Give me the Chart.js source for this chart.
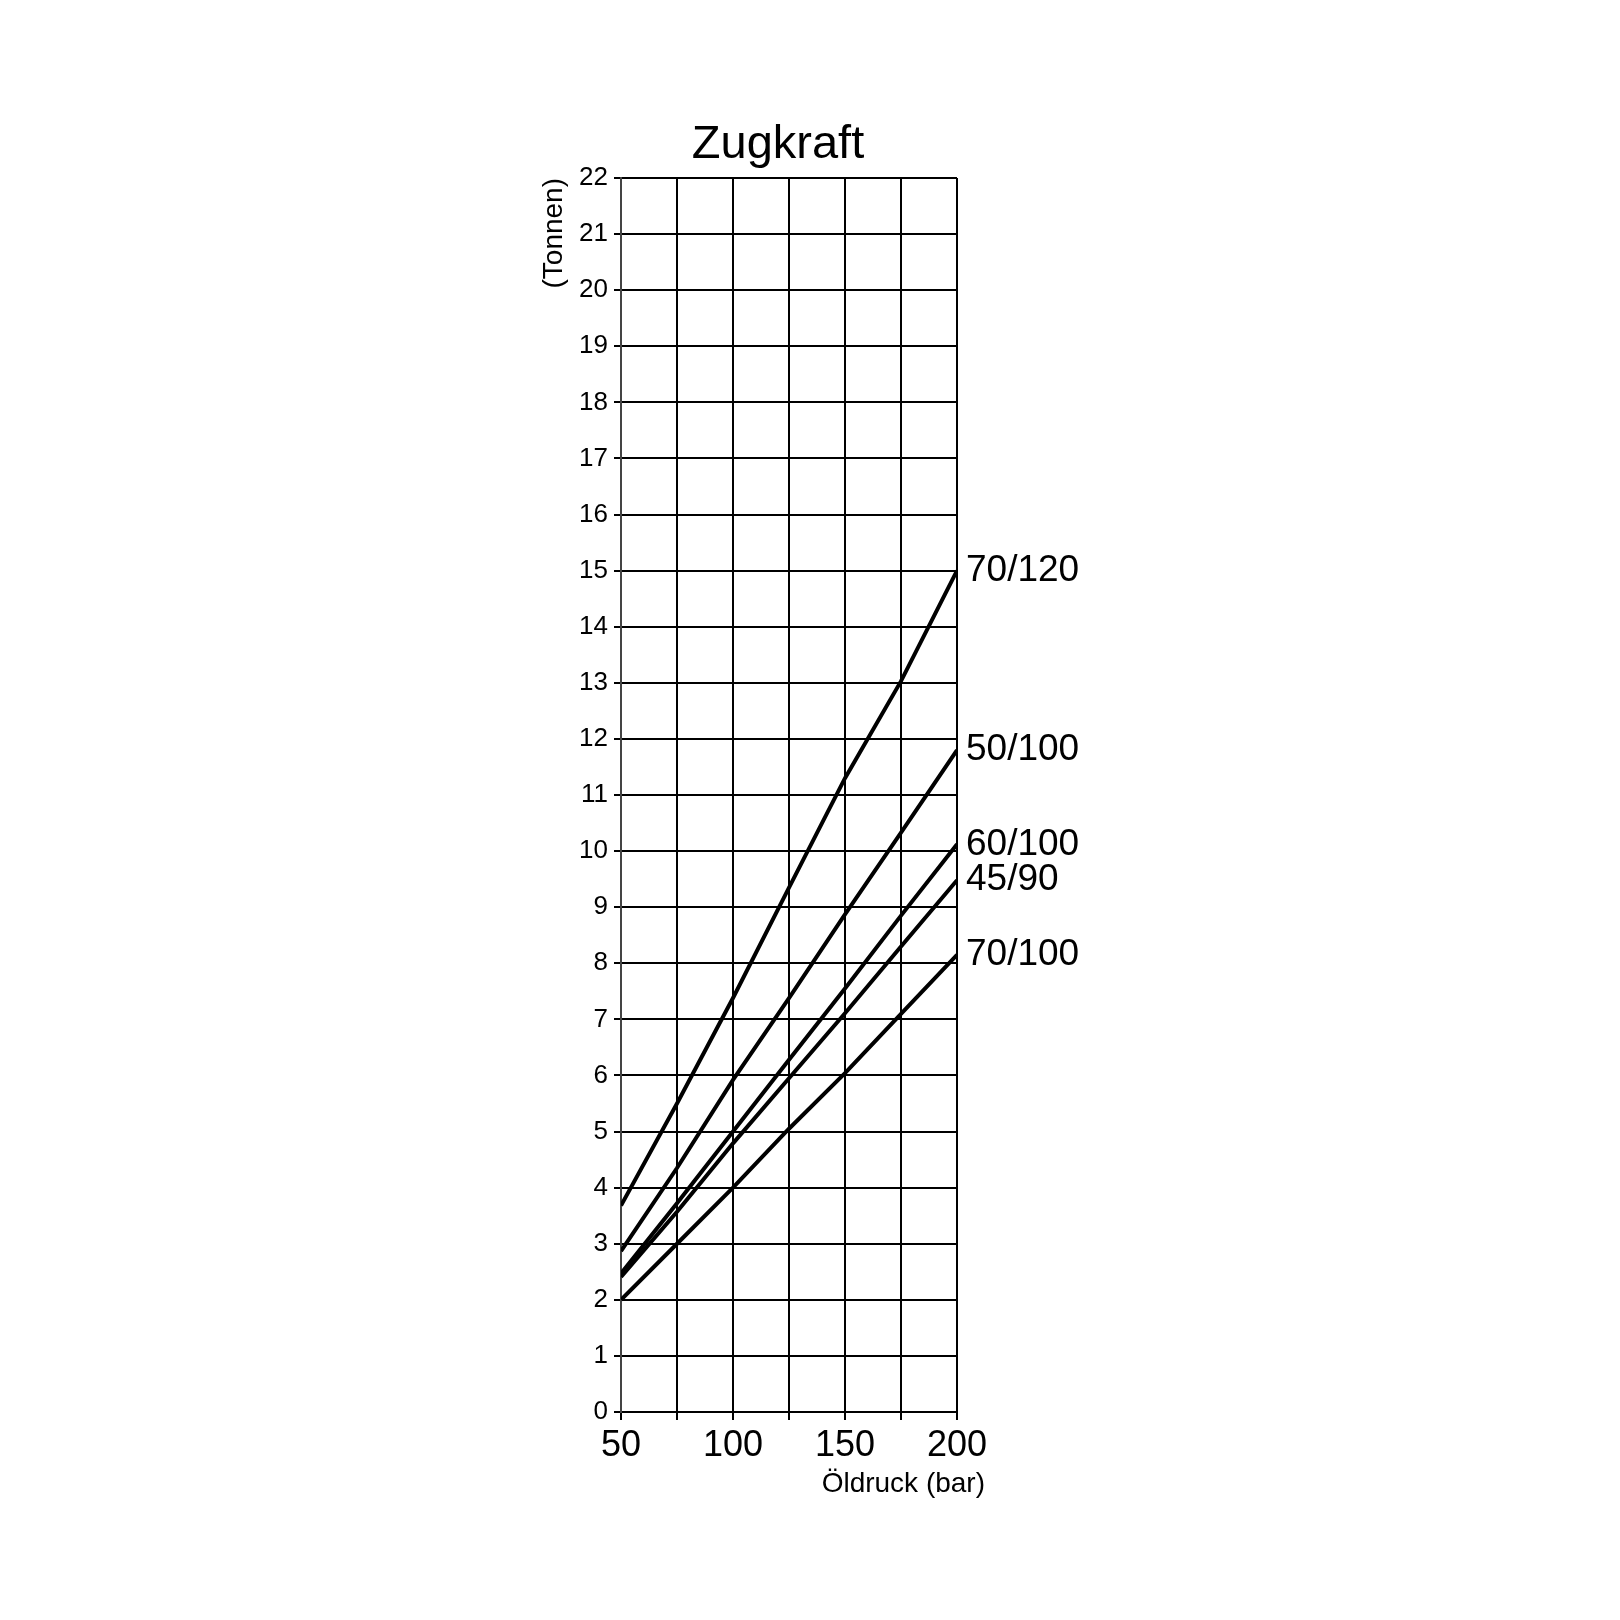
<!DOCTYPE html>
<html>
<head>
<meta charset="utf-8">
<title>Zugkraft</title>
<script src="https://cdn.jsdelivr.net/npm/chart.js@4.4.1/dist/chart.umd.min.js"></script>
<style>
    body { margin: 0; background: #fff; }
    #wrap { width: 1620px; height: 1620px; }
</style>
</head>
<body>
<div id="wrap"><canvas id="zugChart" width="1620" height="1620"></canvas></div>
<script>
// --- Data ---
const pressures = [50, 75, 100, 125, 150, 175, 200]; // Öldruck (bar)
const seriesNames = ['70/120', '50/100', '60/100', '45/90', '70/100'];
const force70_120 = [3.68, 5.5, 7.38, 9.35, 11.3, 13.03, 15.0];
const force50_100 = [2.87, 4.35, 5.92, 7.38, 8.87, 10.33, 11.8];
const force60_100 = [2.47, 3.72, 5.0, 6.28, 7.55, 8.85, 10.12];
const force45_90 = [2.41, 3.57, 4.79, 5.95, 7.11, 8.3, 9.48];
const force70_100 = [2.0, 3.0, 4.0, 5.05, 6.04, 7.1, 8.15];
const xTickLabels = [50, 100, 150, 200];

const allForces = [force70_120, force50_100, force60_100, force45_90, force70_100];
const FONT = "'Liberation Sans', Arial, sans-serif";

function toPoints(values) {
    return values.map((v, i) => ({ x: pressures[i], y: v }));
}

// Title, x axis title and line labels drawn next to the chart area
const labelPlugin = {
    id: 'labelPlugin',
    afterDraw(chart) {
        const ctx = chart.ctx;
        const area = chart.chartArea;
        const yScale = chart.scales.y;
        ctx.save();
        ctx.fillStyle = '#000';

        // main title
        ctx.font = '47px ' + FONT;
        ctx.textAlign = 'center';
        ctx.textBaseline = 'alphabetic';
        ctx.fillText('Zugkraft', (area.left + area.right) / 2 - 11, area.top - 20);

        // x axis title
        ctx.font = '28px ' + FONT;
        ctx.textAlign = 'right';
        ctx.fillText('Öldruck (bar)', area.right + 28, area.bottom + 80);

        // series names at the end of each line
        ctx.font = '37px ' + FONT;
        ctx.textAlign = 'left';
        ctx.textBaseline = 'middle';
        seriesNames.forEach((name, i) => {
            const last = allForces[i][allForces[i].length - 1];
            ctx.fillText(name, area.right + 9, yScale.getPixelForValue(last));
        });
        ctx.restore();
    }
};

new Chart(document.getElementById('zugChart'), {
    type: 'line',
    data: {
        datasets: allForces.map((vals, i) => ({
            label: seriesNames[i],
            data: toPoints(vals),
            borderColor: '#000',
            borderWidth: 4,
            pointRadius: 0,
            tension: 0,
            fill: false
        }))
    },
    options: {
        responsive: false,
        animation: false,
        layout: {
            padding: { left: 500, right: 663, top: 178, bottom: 148 }
        },
        plugins: {
            legend: { display: false },
            tooltip: { enabled: false }
        },
        scales: {
            x: {
                type: 'linear',
                min: 50,
                max: 200,
                afterFit: (scale) => { scale.height = 60; },
                ticks: {
                    stepSize: 25,
                    autoSkip: false,
                    maxRotation: 0,
                    padding: 4,
                    color: '#000',
                    font: { family: FONT, size: 36 },
                    callback: (v) => xTickLabels.includes(v) ? String(v) : ''
                },
                grid: { color: '#000', lineWidth: 2, tickLength: 8 },
                border: { color: '#000', width: 2 }
            },
            y: {
                min: 0,
                max: 22,
                afterFit: (scale) => { scale.width = 121; },
                ticks: {
                    stepSize: 1,
                    autoSkip: false,
                    padding: 6,
                    color: '#000',
                    font: { family: FONT, size: 26 }
                },
                grid: { color: '#000', lineWidth: 2, tickLength: 7 },
                border: { color: '#444', width: 2 },
                title: {
                    display: true,
                    text: '(Tonnen)',
                    align: 'end',
                    color: '#000',
                    font: { family: FONT, size: 28 },
                    padding: { top: 37, bottom: 0 }
                }
            }
        }
    },
    plugins: [labelPlugin]
});
</script>
</body>
</html>
